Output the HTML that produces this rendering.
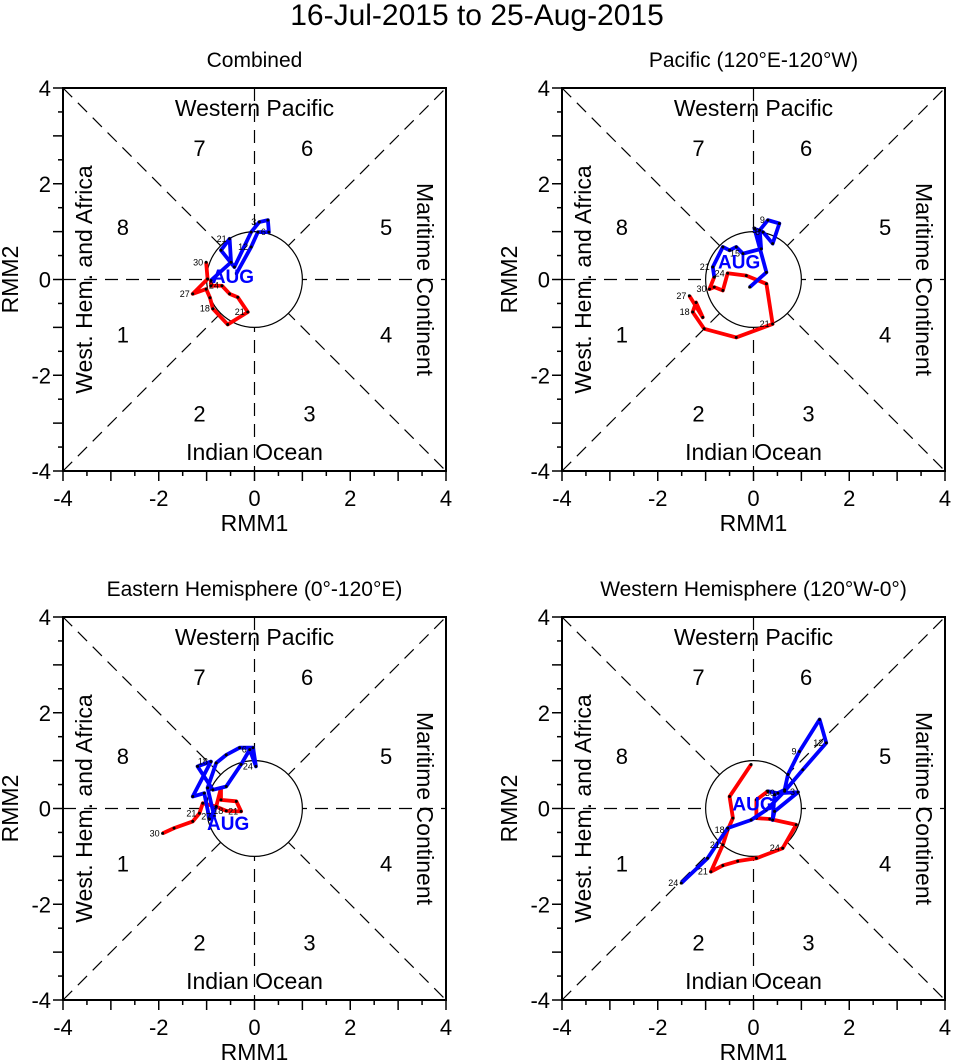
<!DOCTYPE html>
<html><head><meta charset="utf-8"><style>
body{margin:0;background:#fff;}
svg{display:block;font-family:"Liberation Sans",sans-serif;}
</style></head><body>
<svg id="chart" width="956" height="1060" viewBox="0 0 956 1060">
<text x="477" y="25" font-size="30" text-anchor="middle">16-Jul-2015 to 25-Aug-2015</text>
</svg>
<script>
// data (RMM1, RMM2 pairs)
const panelTitles = ["Combined","Pacific (120°E-120°W)","Eastern Hemisphere (0°-120°E)","Western Hemisphere (120°W-0°)"];
const redX1 = [-1.01,-0.98,-1.29,-1.01,-0.93,-0.87,-0.56,-0.14,-0.35,-0.52,-0.68,-0.91,-0.91];
const redY1 = [0.36,0.01,-0.30,-0.20,-0.38,-0.61,-0.94,-0.68,-0.37,-0.30,-0.13,-0.13,-0.02];
const blueX1 = [-0.91,-0.49,-0.52,-0.70,-0.42,-0.07,0.10,0.28,0.30,0.07,-0.07,-0.38];
const blueY1 = [-0.02,0.36,0.85,0.61,0.26,0.99,1.20,1.24,0.99,0.99,0.68,0.12];
const redX2 = [-1.34,-1.06,-1.20,-1.27,-1.03,-0.36,0.40,0.27,-0.15,-0.54,-0.64,-0.82,-0.92,-0.82];
const redY2 = [-0.34,-0.79,-0.48,-0.68,-1.03,-1.21,-0.93,-0.09,0.08,0.13,-0.23,-0.16,-0.20,0.05];
const blueX2 = [-0.82,-0.85,-0.64,-0.50,-0.36,-0.22,0.16,0.13,0.30,0.54,0.40,0.20,0.02,0.27,-0.08];
const blueY2 = [0.05,0.26,0.68,0.61,0.68,0.54,0.64,1.03,1.24,1.17,0.75,0.99,1.06,0.15,-0.16];
const redX3 = [-1.92,-1.68,-1.29,-1.15,-1.08,-0.80,-0.70,-0.70,-0.38,-0.28,-0.59,-0.80];
const redY3 = [-0.52,-0.41,-0.27,-0.10,0.11,0.04,0.43,0.18,0.15,-0.06,-0.05,0.04];
const blueX3 = [-0.80,-0.94,-1.05,-1.29,-0.91,-1.19,-0.87,-0.59,-0.28,-0.10,0.03,-0.03,-0.31,-0.59,-0.80,-0.98,-0.84];
const blueY3 = [0.04,-0.22,0.32,0.25,0.98,0.88,0.39,0.46,0.92,1.23,0.88,1.27,1.27,1.12,0.95,0.43,-0.17];
const redX4 = [-0.05,-0.50,-0.43,-0.54,-0.64,-0.89,-0.64,-0.33,0.06,0.61,0.89,0.34,0.06,0.06,0.30];
const redY4 = [0.92,0.25,-0.20,-0.45,-0.76,-1.32,-1.19,-1.10,-1.04,-0.83,-0.34,-0.22,-0.20,0.18,0.36];
const blueX4 = [0.30,0.51,0.93,0.44,0.40,0.44,0.65,0.72,0.96,1.38,1.52,1.03,0.65,0.27,-0.05,-0.54,-0.96,-1.51];
const blueY4 = [0.36,0.32,0.34,-0.06,-0.24,0.29,0.39,0.71,1.19,1.86,1.37,0.81,0.36,-0.03,-0.24,-0.41,-1.04,-1.56];
const tickVals = [-4,-2,0,2,4];
const series = [[redX1,redY1,blueX1,blueY1],[redX2,redY2,blueX2,blueY2],[redX3,redY3,blueX3,blueY3],[redX4,redY4,blueX4,blueY4]];
const dayLabels = [
 [[0,"30"],[2,"27"],[5,"18"],[7,"21"],[10,"24"]],
 [[0,"27"],[3,"18"],[6,"21"],[9,"24"],[12,"30"]],
 [[0,"30"],[3,"21"],[9,"21"],[10,"18"]],
 [[3,"18"],[4,"21"],[5,"21"],[9,"24"]]];
const blueLabels = [
 [[2,"21"],[6,"3"],[8,"6"],[10,"12"]],
 [[1,"21"],[5,"15"],[7,"3"],[8,"9"],[11,"6"]],
 [[4,"18"],[9,"6"],[10,"24"],[16,"27"]],
 [[1,"30"],[2,"3"],[8,"9"],[10,"12"],[17,"24"]]];

const NS="http://www.w3.org/2000/svg";
const svg=document.getElementById('chart');
function mk(tag,attrs,parent){const e=document.createElementNS(NS,tag);for(const k in attrs)e.setAttribute(k,attrs[k]);(parent||svg).appendChild(e);return e;}
const origins=[[63,88],[562,88],[63,617],[562,617]];
const S=383, U=S/8;
origins.forEach((o,pi)=>{
  const g=mk('g',{});
  
  
  const x0=o[0],y0=o[1];
  const sx=v=>x0+S/2+v*U, sy=v=>y0+S/2-v*U;
  const t=mk('text',{x:x0+S/2,y:y0-21,'font-size':21,'text-anchor':'middle'},g);t.textContent=panelTitles[pi];
  
  
  const dash={stroke:'#000','stroke-width':1.2,'stroke-dasharray':'13,8',fill:'none'};
  mk('line',Object.assign({x1:x0,y1:y0,x2:x0+S,y2:y0+S},dash),g);
  mk('line',Object.assign({x1:x0,y1:y0+S,x2:x0+S,y2:y0},dash),g);
  mk('line',Object.assign({x1:x0+S/2,y1:y0,x2:x0+S/2,y2:y0+S},dash),g);
  mk('line',Object.assign({x1:x0,y1:y0+S/2,x2:x0+S,y2:y0+S/2},dash),g);
  mk('circle',{cx:sx(0),cy:sy(0),r:U,fill:'#fff',stroke:'#000','stroke-width':1.2},g);
  mk('rect',{x:x0,y:y0,width:S,height:S,fill:'none',stroke:'#000','stroke-width':2},g);
  for(let v=-4;v<=4;v+=0.5){
    const maj=Number.isInteger(v);
    mk('line',{x1:sx(v),y1:y0+S,x2:sx(v),y2:y0+S+(maj?10:5),stroke:'#000','stroke-width':1.5},g);
    mk('line',{x1:x0,y1:sy(v),x2:x0-(maj?10:5),y2:sy(v),stroke:'#000','stroke-width':1.5},g);
  }
  tickVals.forEach(v=>{
    const a=mk('text',{x:sx(v),y:y0+S+35,'font-size':22,'text-anchor':'middle'},g);a.textContent=String(v);
    
    
    const b=mk('text',{x:x0-12,y:sy(v)+8,'font-size':22,'text-anchor':'end'},g);b.textContent=String(v);
    
    
  });
  const xt=mk('text',{x:x0+S/2,y:y0+S+60,'font-size':23,'text-anchor':'middle'},g);xt.textContent='RMM1';
  
  
  const yt=mk('text',{x:0,y:0,'font-size':23,'text-anchor':'middle',transform:`translate(${x0-45},${y0+S/2}) rotate(-90)`},g);yt.textContent='RMM2';
  
  
  const reg=(txt,x,y,rot,name)=>{const e=mk('text',{x:0,y:0,'font-size':23,'text-anchor':'middle',transform:`translate(${x},${y}) rotate(${rot})`},g);e.textContent=txt;
    
    };
  reg('Western Pacific',x0+S/2,y0+28,0,'region-western-pacific');
  reg('Indian Ocean',x0+S/2,y0+S-11,0,'region-indian-ocean');
  reg('West. Hem. and Africa',x0+29,y0+S/2,-90,'region-west-hem-africa');
  reg('Maritime Continent',x0+S-29,y0+S/2,90,'region-maritime-continent');
  const ph=[[1,-2.75,-1.15],[2,-1.15,-2.8],[3,1.15,-2.8],[4,2.75,-1.15],[5,2.75,1.1],[6,1.1,2.75],[7,-1.15,2.75],[8,-2.75,1.1]];
  ph.forEach(p=>{const e=mk('text',{x:sx(p[1]),y:sy(p[2])+8,'font-size':22,'text-anchor':'middle'},g);e.textContent=p[0];
    
    });
  const s=series[pi];
  [[s[0],s[1],'#f00','red-track'],[s[2],s[3],'#00f','blue-track']].forEach(([X,Y,c,n])=>{
    const pts=X.map((v,i)=>sx(v)+','+sy(Y[i])).join(' ');
    const pl=mk('polyline',{points:pts,fill:'none',stroke:c,'stroke-width':3.8,'stroke-linejoin':'round'},g);
    
    
    X.forEach((v,i)=>mk('circle',{cx:sx(v),cy:sy(Y[i]),r:1.5,fill:'#000'},g));
  });
  dayLabels[pi].forEach(([i,txt])=>{const e=mk('text',{x:sx(s[0][i])-3,y:sy(s[1][i])+3,'font-size':9,'text-anchor':'end'},g);e.textContent=txt;
    
    });
  blueLabels[pi].forEach(([i,txt])=>{const e=mk('text',{x:sx(s[2][i])-3,y:sy(s[3][i])+3,'font-size':9,'text-anchor':'end'},g);e.textContent=txt;
    
    });
  const ai=[[-0.45,0.07],[-0.3,0.38],[-0.55,-0.3],[0,0.1]][pi];
  const au=mk('text',{x:sx(ai[0]),y:sy(ai[1])+7,'font-size':19,'font-weight':'bold',fill:'#00f','text-anchor':'middle'},g);au.textContent='AUG';
  
  
});
</script>
</body></html>
